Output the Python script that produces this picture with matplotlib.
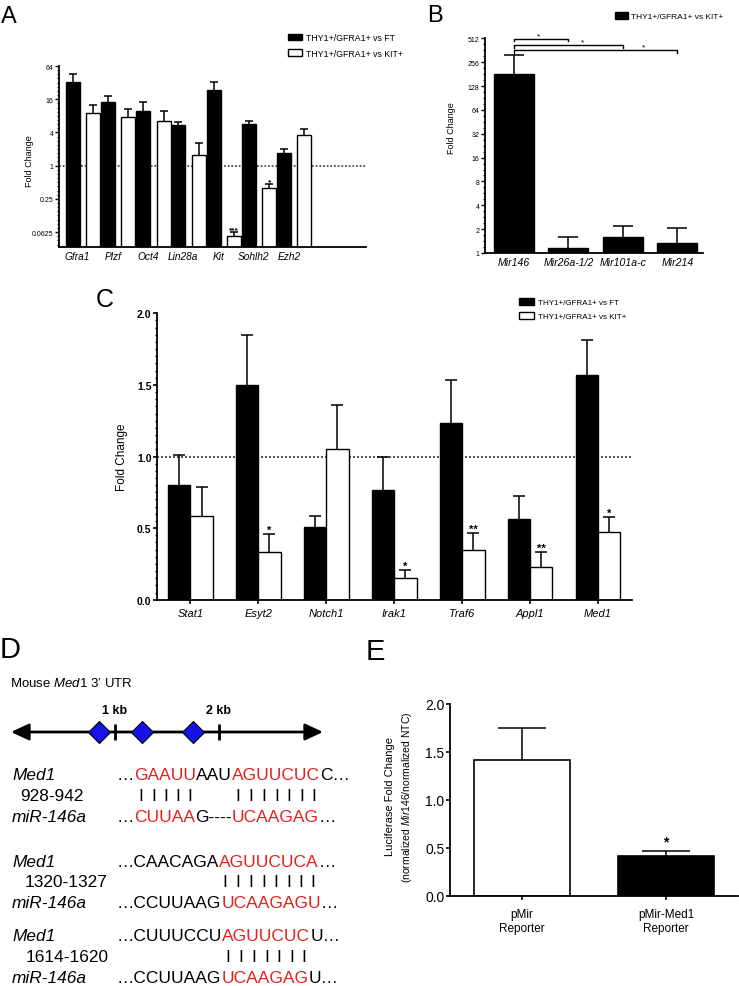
import numpy as np
import matplotlib

matplotlib.use("Agg")
import matplotlib.pyplot as plt
from matplotlib.patches import Patch
from matplotlib.ticker import FixedLocator, NullFormatter

plt.rcParams["font.family"] = ["Liberation Sans", "DejaVu Sans"]
plt.rcParams["mathtext.fontset"] = "custom"
plt.rcParams["mathtext.it"] = "Liberation Sans:italic"
plt.rcParams["mathtext.rm"] = "Liberation Sans"
plt.rcParams["axes.linewidth"] = 1.3

W, H = 739, 987
RED = "#e5201c"

# ---------------- data ----------------
# A: qPCR, log2 fold change
genes_a = ["Gfra1", "Plzf", "Oct4", "Lin28a", "Kit", "Sohlh2", "Ezh2"]
ft_a = [33, 14.1, 9.9, 5.5, 23.9, 5.6, 1.72]
ft_a_err = [13, 4.5, 4.2, 0.8, 8.5, 0.8, 0.28]
kit_a = [9.1, 7.6, 6.5, 1.56, 0.052, 0.40, 3.63]
kit_a_err = [3.5, 3.1, 3.2, 1.0, 0.010, 0.06, 0.9]
sig_a = ["", "", "", "", "***", "*", ""]

# B: miRNA fold change
mirs_b = ["Mir146", "Mir26a-1/2", "Mir101a-c", "Mir214"]
fc_b = [182, 1.16, 1.59, 1.33]
fc_b_err = [133, 0.42, 0.61, 0.72]
pairs_b = [(0, 1), (0, 2), (0, 3)]
pair_height_b = [506, 420, 363]
pair_star_x_b = [0.45, 1.25, 2.38]

# C: target genes
genes_c = ["Stat1", "Esyt2", "Notch1", "Irak1", "Traf6", "Appl1", "Med1"]
ft_c = [0.80, 1.50, 0.51, 0.766, 1.236, 0.565, 1.570]
ft_c_err = [0.21, 0.345, 0.072, 0.234, 0.296, 0.162, 0.245]
kit_c = [0.587, 0.335, 1.05, 0.155, 0.347, 0.231, 0.472]
kit_c_err = [0.198, 0.124, 0.312, 0.053, 0.121, 0.102, 0.107]
sig_c = ["", "*", "", "*", "**", "**", "*"]

# D: Med1 3' UTR sites (kb) and alignments
sites_kb = [0.85, 1.26, 1.75]
site_labels = ["928-942", "1320-1327", "1614-1620"]
med1_seqs = [["…", "GAAUU", "AAU", "AGUUCUC", "C…"],
             ["…CAACAGA", "AGUUCUCA", "…"],
             ["…CUUUCCU", "AGUUCUC", "U…"]]
mir_seqs = [["…", "CUUAA", "G----", "UCAAGAG", "…"],
            ["…CCUUAAG", "UCAAGAGU", "…"],
            ["…CCUUAAG", "UCAAGAG", "U…"]]

# E: luciferase
constructs_e = ["pMir\nReporter", "pMir-Med1\nReporter"]
luc_e = [1.42, 0.415]
luc_e_err = [0.333, 0.055]
sig_e = ["", "*"]

lab_ft = "THY1+/GFRA1+ vs FT"
lab_kit = "THY1+/GFRA1+ vs KIT+"


def box(l, t, r, b):
    return [l / W, 1 - b / H, (r - l) / W, (b - t) / H]


def style_axes(ax):
    ax.spines["top"].set_visible(False)
    ax.spines["right"].set_visible(False)
    ax.patch.set_alpha(0)


def up_err(ax, x, y, err, cap):
    # upper error bar only, like GraphPad
    top = np.asarray(y, dtype=float) + np.asarray(err, dtype=float)
    ax.vlines(x, y, top, color="black", lw=1.1, zorder=3)
    ax.plot(x, top, ls="none", marker="_", ms=2 * cap, mew=1.1, color="black", zorder=3)


fig = plt.figure(figsize=(W / 100, H / 100), dpi=100)

# ---------------- A ----------------
ax_a = fig.add_axes(box(59, 67, 366, 248))
style_axes(ax_a)
xa = np.arange(len(genes_a))
ax_a.bar(xa - 0.29, ft_a, width=0.4, color="black", edgecolor="black", lw=1, zorder=2)
ax_a.bar(xa + 0.29, kit_a, width=0.4, color="white", edgecolor="black", lw=1, zorder=2)
up_err(ax_a, xa - 0.29, ft_a, ft_a_err, 2.9)
up_err(ax_a, xa + 0.29, kit_a, kit_a_err, 2.9)
ax_a.set_yscale("log", base=2)
ax_a.set_ylim(2 ** -4.9, 64)
ax_a.set_xlim(-0.68, 8.04)
ax_a.axhline(1, ls=(0, (1.2, 1.2)), lw=1.1, color="#333333", zorder=1)
ax_a.yaxis.set_major_locator(FixedLocator([0.0625, 0.25, 1, 4, 16, 64]))
ax_a.set_yticklabels(["0.0625", "0.25", "1", "4", "16", "64"])
ax_a.yaxis.set_minor_locator(FixedLocator(2 ** np.arange(-4.75, 6, 0.25)))
ax_a.yaxis.set_minor_formatter(NullFormatter())
ax_a.tick_params(axis="y", which="major", labelsize=5, length=3, width=1, pad=1)
ax_a.tick_params(axis="y", which="minor", length=1.5, width=0.8)
ax_a.set_xticks(xa - 0.15)
ax_a.set_xticklabels(genes_a, fontsize=7.3, style="italic")
ax_a.tick_params(axis="x", length=0, pad=3)
ax_a.set_ylabel("Fold Change", fontsize=6.5)
ax_a.yaxis.set_label_coords(-0.081, 0.48)
for i, s in enumerate(sig_a):
    if s:
        ax_a.annotate(s, xy=(xa[i] + 0.29, kit_a[i] + kit_a_err[i]), xytext=(0, 0.5),
                      textcoords="offset points", ha="center", va="baseline",
                      fontsize=6, fontweight="bold")
fig.legend(handles=[Patch(facecolor="black", edgecolor="black", label=lab_ft),
                    Patch(facecolor="white", edgecolor="black", lw=1, label=lab_kit)],
           loc="upper left", bbox_to_anchor=(288 / W, 1 - 34 / H), frameon=False,
           fontsize=6.3, handlelength=1.6, handleheight=0.8, handletextpad=0.4,
           labelspacing=0.75, borderpad=0, borderaxespad=0)

# ---------------- B ----------------
ax_b = fig.add_axes(box(485, 39.3, 703, 254))
style_axes(ax_b)
xb = np.arange(len(mirs_b))
ax_b.bar(xb, fc_b, width=0.73, color="black", edgecolor="black", lw=1, zorder=2)
up_err(ax_b, xb, fc_b, fc_b_err, 7.5)
ax_b.set_yscale("log", base=2)
ax_b.set_ylim(1, 512)
ax_b.set_xlim(-0.53, 3.47)
ax_b.yaxis.set_major_locator(FixedLocator(2.0 ** np.arange(0, 10)))
ax_b.set_yticklabels([str(2 ** k) for k in range(10)])
ax_b.yaxis.set_minor_locator(FixedLocator(2 ** np.arange(0.25, 9, 0.25)))
ax_b.yaxis.set_minor_formatter(NullFormatter())
ax_b.tick_params(axis="y", which="major", labelsize=5, length=3, width=1, pad=1)
ax_b.tick_params(axis="y", which="minor", length=1.5, width=0.8)
ax_b.set_xticks(xb)
ax_b.set_xticklabels(mirs_b, fontsize=7.6, style="italic")
ax_b.tick_params(axis="x", length=0, pad=3)
ax_b.set_ylabel("Fold Change", fontsize=6.5)
ax_b.yaxis.set_label_coords(-0.133, 0.588)
for (i, j), h, sx in zip(pairs_b, pair_height_b, pair_star_x_b):
    ax_b.plot([i, i, j, j], [h * 0.93, h, h, h * 0.93], color="black", lw=1, clip_on=False)
    ax_b.annotate("*", xy=(sx, h), xytext=(0, 1), textcoords="offset points",
                  ha="center", va="baseline", fontsize=6, annotation_clip=False)
fig.legend(handles=[Patch(facecolor="black", edgecolor="black", label=lab_kit)],
           loc="upper left", bbox_to_anchor=(615 / W, 1 - 13 / H), frameon=False,
           fontsize=6, handlelength=1.55, handleheight=0.95, handletextpad=0.4,
           borderpad=0, borderaxespad=0)

# ---------------- C ----------------
ax_c = fig.add_axes(box(157, 314.3, 632, 600.7))
style_axes(ax_c)
xc = np.arange(len(genes_c))
ax_c.bar(xc, ft_c, width=-0.33, align="edge", color="black", edgecolor="black", lw=1, zorder=2)
ax_c.bar(xc, kit_c, width=0.33, align="edge", color="white", edgecolor="black", lw=1, zorder=2)
up_err(ax_c, xc - 0.165, ft_c, ft_c_err, 4.3)
up_err(ax_c, xc + 0.165, kit_c, kit_c_err, 4.3)
ax_c.set_ylim(0, 2)
ax_c.set_xlim(-0.49, 6.5)
ax_c.axhline(1, ls=(0, (1.2, 1.2)), lw=1.2, color="#333333", zorder=1)
ax_c.set_yticks([0, 0.5, 1.0, 1.5, 2.0])
ax_c.set_yticklabels(["0.0", "0.5", "1.0", "1.5", "2.0"], fontweight="bold")
ax_c.yaxis.set_minor_locator(FixedLocator(np.arange(0.05, 2.0, 0.05)))
ax_c.tick_params(axis="y", which="major", labelsize=7.5, length=3, width=1.2, pad=1)
ax_c.tick_params(axis="y", which="minor", length=1.8, width=1)
ax_c.set_xticks(xc)
ax_c.set_xticklabels(genes_c, fontsize=8, style="italic")
ax_c.tick_params(axis="x", length=3, width=1.2, pad=3)
ax_c.set_ylabel("Fold Change", fontsize=8.5)
ax_c.yaxis.set_label_coords(-0.061, 0.5)
for i, s in enumerate(sig_c):
    if s:
        ax_c.annotate(s, xy=(xc[i] + 0.165, kit_c[i] + kit_c_err[i]), xytext=(0, 0.5),
                      textcoords="offset points", ha="center", va="baseline",
                      fontsize=8, fontweight="bold")
fig.legend(handles=[Patch(facecolor="black", edgecolor="black", label=lab_ft),
                    Patch(facecolor="white", edgecolor="black", lw=1, label=lab_kit)],
           loc="upper left", bbox_to_anchor=(519 / W, 1 - 299 / H), frameon=False,
           fontsize=5.8, handlelength=1.85, handleheight=0.9, handletextpad=0.45,
           labelspacing=0.75, borderpad=0, borderaxespad=0)

# ---------------- E ----------------
ax_e = fig.add_axes(box(450, 705, 738, 896.7))
style_axes(ax_e)
xe = np.arange(len(constructs_e))
ax_e.bar(xe, luc_e, width=0.667, color=["white", "black"], edgecolor="black", lw=1.2, zorder=2)
up_err(ax_e, xe, luc_e, luc_e_err, 17)
ax_e.set_ylim(0, 2)
ax_e.set_xlim(-0.5, 1.5)
ax_e.set_yticks([0, 0.5, 1.0, 1.5, 2.0])
ax_e.set_yticklabels(["0.0", "0.5", "1.0", "1.5", "2.0"])
ax_e.tick_params(axis="y", labelsize=10, length=3, width=1.2, pad=1)
ax_e.set_xticks(xe)
ax_e.set_xticklabels(constructs_e, fontsize=8.5, linespacing=1.25)
ax_e.tick_params(axis="x", length=3, width=1.2, pad=6)
for i, s in enumerate(sig_e):
    if s:
        ax_e.annotate(s, xy=(xe[i], luc_e[i] + luc_e_err[i]), xytext=(0, 4),
                      textcoords="offset points", ha="center", va="baseline",
                      fontsize=10, fontweight="bold")

# ---------------- D diagram ----------------
ax_kb = fig.add_axes(box(11, 721, 323, 745))
ax_kb.set_xlim(0, 3)
ax_kb.set_ylim(-1, 1)
ax_kb.axis("off")
ax_kb.annotate("", xy=(0, 0), xytext=(3, 0),
               arrowprops=dict(arrowstyle="<|-|>,head_length=0.9,head_width=0.42",
                               lw=2, color="black", shrinkA=0, shrinkB=0, mutation_scale=12))
ax_kb.vlines([1, 2], -0.7, 0.7, lw=2, color="black")
for k in [1, 2]:
    ax_kb.text(k, 1.58, f"{k} kb", ha="center", va="baseline", fontsize=9, fontweight="bold")
ax_kb.plot(sites_kb, np.zeros(len(sites_kb)), "D", ms=11, mfc="#1414e6", mec="black",
           mew=0.8, zorder=3, clip_on=False)

# ---------------- overlay (pixel coords) ----------------
ax_px = fig.add_axes([0, 0, 1, 1], zorder=10)
ax_px.set_xlim(0, W)
ax_px.set_ylim(H, 0)
ax_px.axis("off")
ax_px.patch.set_alpha(0)

for letter, x, y, size in [("A", 1, 23, 17), ("B", 427, 22, 17), ("C", 96, 307, 18),
                           ("D", 0, 658, 21), ("E", 366, 660, 21)]:
    ax_px.text(x, y, letter, fontsize=size, ha="left", va="baseline")

ax_px.text(10, 686.7, "Mouse $\\mathit{Med1}$ 3’ UTR", fontsize=9.5, ha="left", va="baseline")

ax_px.text(390, 797, "Luciferase Fold Change", fontsize=8, rotation=90, ha="center", va="center")
ax_px.text(407, 797, "(normalized $\\mathit{Mir146}$/normalized NTC)", fontsize=7.5,
           rotation=90, ha="center", va="center")

renderer = fig.canvas.get_renderer()
SEQ = 12.5


def text_width(s):
    t = ax_px.text(0, 0, s, fontsize=SEQ)
    w = t.get_window_extent(renderer).width
    t.remove()
    return w


def draw_seq(x0, y, segments):
    centers = []
    for i, seg in enumerate(segments):
        prefix = "".join(segments[:i + 1])
        ax_px.text(x0 + text_width(prefix), y, seg, fontsize=SEQ, ha="right", va="baseline",
                   color=RED if i % 2 == 1 else "black")
        if i % 2 == 1:
            start = "".join(segments[:i])
            for k in range(len(seg)):
                full = text_width(start + seg[:k + 1])
                centers.append(x0 + full - text_width(seg[k]) / 2)
    return centers


block_y = [780, 866.7, 941.3]
num_x = [20, 25, 26]
for b in range(3):
    y0 = block_y[b]
    ax_px.text(12, y0, "Med1", fontsize=12.4, style="italic", ha="left", va="baseline")
    ax_px.text(num_x[b], y0 + 20.7, site_labels[b], fontsize=12.4, ha="left", va="baseline")
    ax_px.text(12, y0 + 41.7, "miR-146a", fontsize=12.4, style="italic", ha="left", va="baseline")
    centers = draw_seq(117, y0, med1_seqs[b])
    draw_seq(117, y0 + 41.7, mir_seqs[b])
    for cx in centers:
        ax_px.text(cx, y0 + 20.7, "I", fontsize=12.4, ha="center", va="baseline")

fig.savefig("out.png", dpi=100)
